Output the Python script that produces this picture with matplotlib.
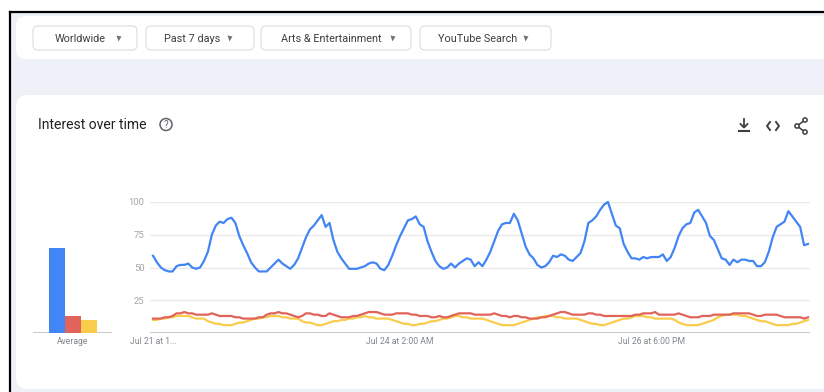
import matplotlib
matplotlib.use('Agg')
import matplotlib.pyplot as plt
from matplotlib.patches import FancyBboxPatch, Rectangle, Circle
import numpy as np

# --- data (hourly, Jul 21 11:00 AM ... +167 h) ---
blue = [59, 54, 50, 48, 47, 47, 51, 52, 52, 53, 50, 49, 50, 55, 62, 75, 82, 85, 84, 87,
        88, 84, 74, 67, 61, 54, 50, 47, 47, 47, 50, 53, 56, 53, 51, 49, 52, 57, 65, 73,
        79, 82, 86, 90, 81, 84, 71, 62, 57, 53, 49, 49, 49, 50, 51, 53, 54, 53, 49, 48,
        52, 59, 67, 74, 80, 86, 87, 89, 83, 81, 70, 62, 55, 51, 49, 50, 53, 50, 53, 55,
        57, 56, 51, 54, 51, 56, 62, 70, 78, 83, 84, 84, 91, 86, 76, 66, 60, 57, 52, 50,
        51, 54, 59, 58, 60, 59, 56, 55, 58, 61, 70, 84, 86, 89, 94, 98, 100, 91, 82, 80,
        68, 62, 57, 57, 56, 58, 57, 58, 58, 58, 60, 55, 58, 65, 74, 80, 83, 84, 92, 94,
        89, 84, 74, 71, 64, 57, 56, 52, 56, 54, 56, 56, 55, 55, 51, 51, 54, 62, 73, 81,
        83, 85, 93, 89, 85, 81, 67, 68]
red = [11, 11, 11, 12, 12, 13, 15, 15, 16, 15, 15, 14, 14, 14, 14, 15, 14, 13, 13, 13,
       13, 12, 12, 11, 11, 11, 11, 12, 12, 14, 15, 15, 16, 15, 15, 14, 13, 12, 13, 15,
       15, 14, 14, 13, 13, 15, 14, 13, 12, 12, 12, 13, 13, 14, 15, 16, 16, 16, 15, 14,
       14, 14, 15, 15, 15, 15, 14, 14, 13, 13, 13, 12, 12, 13, 12, 12, 13, 14, 15, 15,
       15, 15, 14, 14, 14, 14, 14, 15, 14, 13, 13, 12, 13, 13, 12, 12, 11, 11, 11, 12,
       12, 13, 14, 15, 16, 16, 15, 14, 14, 14, 14, 15, 15, 14, 14, 13, 13, 13, 13, 13,
       13, 13, 13, 14, 14, 15, 15, 15, 16, 14, 14, 14, 14, 14, 15, 14, 13, 12, 12, 12,
       13, 13, 13, 14, 14, 14, 14, 14, 15, 15, 15, 15, 15, 14, 13, 13, 14, 14, 14, 14,
       13, 12, 12, 12, 12, 12, 11, 12]
yellow = [10, 10, 11, 11, 12, 12, 13, 13, 13, 13, 12, 11, 11, 11, 9, 8, 7, 7, 6, 6,
          6, 7, 8, 8, 9, 10, 11, 11, 12, 12, 13, 13, 13, 12, 12, 11, 11, 11, 9, 8,
          8, 7, 6, 6, 7, 8, 9, 9, 10, 10, 11, 11, 12, 12, 13, 12, 12, 11, 11, 11,
          11, 10, 9, 8, 7, 7, 6, 6, 7, 7, 8, 9, 9, 10, 11, 11, 12, 13, 13, 12,
          12, 11, 11, 11, 11, 10, 9, 8, 7, 6, 6, 6, 6, 7, 8, 9, 10, 11, 12, 12,
          13, 13, 13, 12, 12, 11, 11, 11, 11, 10, 9, 8, 7, 7, 6, 6, 7, 8, 9, 10,
          11, 11, 12, 13, 13, 13, 12, 12, 11, 11, 11, 11, 11, 10, 8, 7, 6, 6, 6, 6,
          7, 8, 9, 10, 12, 13, 14, 14, 14, 14, 13, 13, 12, 11, 10, 9, 9, 8, 7, 6,
          6, 6, 6, 7, 7, 8, 9, 10]
averages = [65, 13, 10]
colors = ['#4285f4', '#e0645a', '#f9cc4c']
y_ticks = [25, 50, 75, 100]
x_tick_pos = [0, 63, 127]
x_tick_labels = ['Jul 21 at 1...', 'Jul 24 at 2:00 AM', 'Jul 26 at 6:00 PM']
filters = ['Worldwide', 'Past 7 days', 'Arts & Entertainment', 'YouTube Search']

W, H = 824, 392
plt.rcParams['font.family'] = ['Roboto', 'DejaVu Sans']
fig = plt.figure(figsize=(W / 100, H / 100), dpi=100)

# page / cards, in pixel coordinates
bg = fig.add_axes([0, 0, 1, 1])
bg.set_xlim(0, W)
bg.set_ylim(H, 0)
bg.axis('off')
bg.add_patch(Rectangle((10, 12), W, H, color='#eef1f7', zorder=0))
bg.add_patch(FancyBboxPatch((16, 16), 830, 43, boxstyle='round,pad=0,rounding_size=10',
                            fc='white', ec='none', zorder=1))
bg.add_patch(FancyBboxPatch((16, 95), 830, 294, boxstyle='round,pad=0,rounding_size=12',
                            fc='white', ec='none', zorder=1))
bg.plot([10, 10], [12, H], color='black', lw=1.6, zorder=5)
bg.plot([10, W], [12, 12], color='black', lw=1.6, zorder=5)

# filter buttons
btn_x = [(33, 137), (146, 254), (261, 411), (420, 551)]
arrow_x = [118, 229, 392, 525]
for (x0, x1), ax_, name in zip(btn_x, arrow_x, filters):
    bg.add_patch(FancyBboxPatch((x0, 26), x1 - x0, 24, boxstyle='round,pad=0,rounding_size=5',
                                fc='white', ec='#dadce0', lw=0.8, zorder=2))
    cx = (x0 + ax_) / 2 + 5
    bg.text(cx, 38.5, name, ha='center', va='center', fontsize=7.8, color='#3c4043', zorder=3)
    bg.plot(ax_, 37.5, marker='v', ms=3.6, color='#70757a', mec='none', zorder=3)

# card header
bg.text(38, 125, 'Interest over time', ha='left', va='center', fontsize=10, color='#202124', zorder=3)
bg.add_patch(Circle((166, 124.5), 6, fc='none', ec='#5f6368', lw=1.1, zorder=3))
bg.text(166, 125, '?', ha='center', va='center', fontsize=7, color='#5f6368', zorder=4)
# download icon
bg.plot([744, 744], [119, 127], color='#3c4043', lw=1.3, zorder=3)
bg.plot([740.5, 744, 747.5], [124, 127.5, 124], color='#3c4043', lw=1.3, zorder=3)
bg.plot([739, 749], [131, 131], color='#3c4043', lw=1.5, zorder=3)
# embed icon
bg.plot([770, 767, 770], [122, 126, 130], color='#3c4043', lw=1.4, zorder=3)
bg.plot([776, 779, 776], [122, 126, 130], color='#3c4043', lw=1.4, zorder=3)
# share icon
bg.plot([805, 797, 805], [120, 126, 132], color='#3c4043', lw=1.1, zorder=3)
for px, py in [(805, 120), (797, 126), (805, 132)]:
    bg.add_patch(Circle((px, py), 2.1, fc='white', ec='#3c4043', lw=1.1, zorder=4))

# main line chart
x0_px, x1_px = 150, 810
ax = fig.add_axes([x0_px / W, (H - 333) / H, (x1_px - x0_px) / W, 131 / H])
n = len(blue)
px_per = (808 - 153) / (n - 1)
ax.set_xlim(-3 / px_per, (n - 1) + 2 / px_per)
ax.set_ylim(0, 100)
t = np.arange(n)
ax.plot(t, yellow, color=colors[2], lw=1.6, zorder=3, clip_on=False)
ax.plot(t, red, color=colors[1], lw=1.6, zorder=4, clip_on=False)
ax.plot(t, blue, color=colors[0], lw=1.6, zorder=5, clip_on=False)
for yv in y_ticks:
    ax.axhline(yv, color='#e8e8e8', lw=0.9, zorder=1)
ax.axhline(0, color='#c8c8c8', lw=1.4, zorder=2)
for s in ax.spines.values():
    s.set_visible(False)
ax.set_yticks(y_ticks)
ax.set_yticklabels([str(v) for v in y_ticks])
ax.tick_params(axis='y', length=0, pad=4, labelsize=6.8, labelcolor='#a6a6a6')
ax.set_xticks(x_tick_pos)
ax.set_xticklabels(x_tick_labels)
ax.tick_params(axis='x', length=0, pad=3, labelsize=6.2, labelcolor='#80868b')

# average bars
bx = fig.add_axes([33 / W, (H - 333) / H, 79 / W, 131 / H])
bx.set_xlim(-1.5, 3.44)
bx.set_ylim(0, 100)
bx.bar(np.arange(3), averages, width=0.97, color=colors, zorder=3)
bx.axhline(0, color='#c8c8c8', lw=1.4, zorder=2)
bx.axis('off')
bx.text(0.5, -0.03, 'Average', transform=bx.transAxes, ha='center', va='top',
        fontsize=6.2, color='#80868b')

fig.savefig('out.png', dpi=100)
